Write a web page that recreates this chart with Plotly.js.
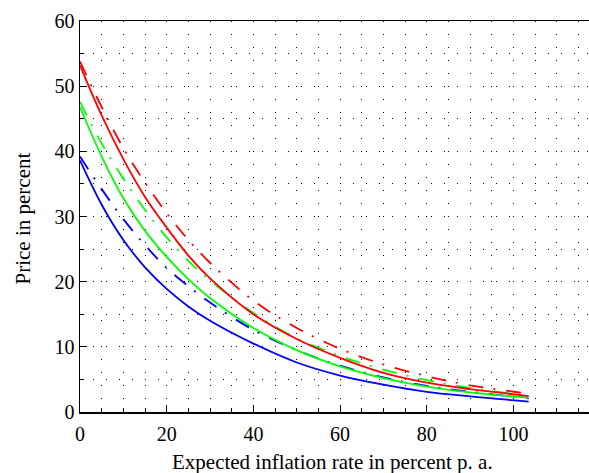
<!DOCTYPE html>
<html>
<head>
<meta charset="utf-8">
<script src="https://cdn.plot.ly/plotly-3.0.1.min.js"></script>
<style>
html,body{margin:0;padding:0;overflow:hidden;background:#fff;width:589px;height:473px;}
#chart{width:598px;height:473px;}
</style>
</head>
<body>
<div id="chart"></div>
<script>
// Expected inflation rate in percent p. a.
const inflation = [0, 5, 10, 15, 20, 25, 30, 40, 50, 60, 70, 80, 90, 103.5];
// Price in percent
const blueSolid  = [38.6, 31.8, 26.4, 22.2, 18.9, 16.2, 14.0, 10.5, 7.6, 5.6, 4.2, 3.1, 2.4, 1.6];
const blueDash   = [39.2, 34.2, 29.6, 25.6, 22.1, 19.3, 16.8, 12.6, 9.5, 7.1, 5.3, 4.0, 3.1, 2.1];
const greenSolid = [46.8, 39.2, 32.8, 27.8, 23.8, 20.4, 17.5, 12.9, 9.5, 7.0, 5.2, 3.9, 3.0, 2.2];
const greenDash  = [47.6, 41.2, 35.8, 31.0, 26.8, 23.2, 20.2, 15.2, 11.3, 8.6, 6.5, 4.9, 3.7, 2.5];
const redSolid   = [53.2, 45.5, 38.8, 33.0, 28.3, 24.0, 20.5, 15.0, 11.2, 8.3, 6.0, 4.5, 3.5, 2.45];
const redDash    = [53.8, 46.8, 40.5, 35.2, 30.5, 26.4, 22.9, 17.1, 12.9, 9.7, 7.3, 5.5, 4.1, 2.8];

const xTitle = 'Expected inflation rate in percent p. a.';
const yTitle = 'Price in percent';

const DASH = '15px,10px,2px,11px';
function tr(y, color, dash) {
  return {x: inflation, y: y, type: 'scatter', mode: 'lines',
    line: {color: color, width: 1.8, dash: dash, shape: 'spline', smoothing: 1},
    hoverinfo: 'skip', showlegend: false};
}
const data = [
  tr(blueDash, '#0000ff', DASH),
  tr(greenDash, '#00ff00', DASH),
  tr(redDash, '#ff0000', DASH),
  tr(blueSolid, '#0000ff', 'solid'),
  tr(greenSolid, '#00ff00', 'solid'),
  tr(redSolid, '#ff0000', 'solid')
];

const font = {family: '"Liberation Serif", "Times New Roman", serif', size: 20, color: '#000'};
const grid = {showgrid: true, gridcolor: '#000', gridwidth: 1, griddash: '1px,12px'};

const layout = {
  width: 598, height: 473,
  margin: {l: 80, r: 0, t: 21, b: 61, pad: 0},
  paper_bgcolor: '#fff', plot_bgcolor: '#fff',
  font: font,
  showlegend: false,
  xaxis: Object.assign({
    range: [0, 119.5], tick0: 0, dtick: 20, ticks: 'inside', ticklen: 7, tickwidth: 1, tickcolor: '#000',
    showline: true, linecolor: '#000', linewidth: 1.5, mirror: true, zeroline: false,
    tickfont: font, fixedrange: true, ticklabelstandoff: 3,
    minor: Object.assign({tick0: 0, dtick: 5, ticks: 'inside', ticklen: 4, tickcolor: '#000', tickwidth: 1}, grid)
  }, grid),
  yaxis: Object.assign({
    range: [0, 60], tick0: 0, dtick: 10, ticks: 'inside', ticklen: 7, tickwidth: 1, tickcolor: '#000',
    showline: true, linecolor: '#000', linewidth: 1.5, mirror: true, zeroline: false,
    tickfont: font, fixedrange: true,
    minor: Object.assign({tick0: 0, dtick: 5, ticks: 'inside', ticklen: 4, tickcolor: '#000', tickwidth: 1}, grid)
  }, grid),
  annotations: [
    {text: xTitle, xref: 'paper', yref: 'paper', x: 0.488, y: -0.128, xanchor: 'center', yanchor: 'middle',
     showarrow: false, font: {family: font.family, size: 21, color: '#000'}},
    {text: yTitle, xref: 'paper', yref: 'paper', x: -0.110, y: 0.495, xanchor: 'center', yanchor: 'middle',
     textangle: -90, showarrow: false, font: {family: font.family, size: 21, color: '#000'}}
  ]
};

Plotly.newPlot('chart', data, layout, {displayModeBar: false, staticPlot: true});
</script>
</body>
</html>
